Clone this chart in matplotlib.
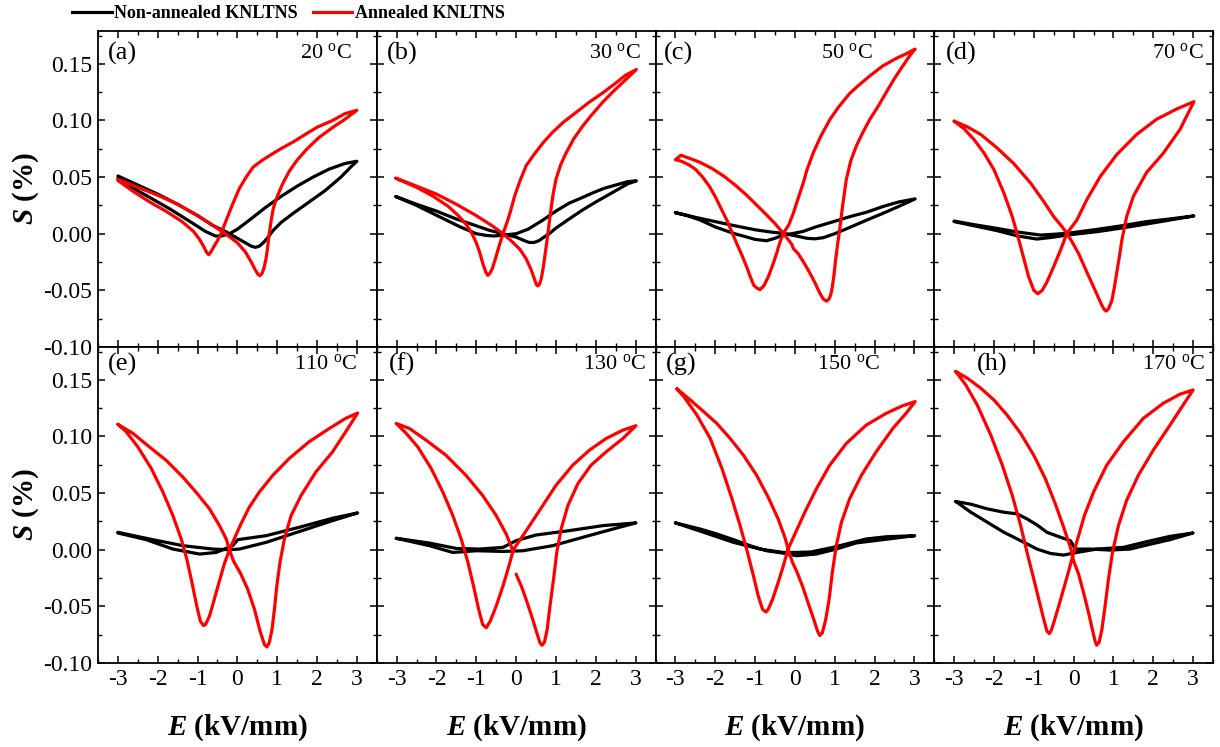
import matplotlib
matplotlib.use("Agg")
import matplotlib.pyplot as plt
from matplotlib.ticker import MultipleLocator, FormatStrFormatter
from matplotlib.lines import Line2D

plt.rcParams['font.family'] = ['Liberation Serif', 'DejaVu Serif']
plt.rcParams['mathtext.fontset'] = 'custom'
plt.rcParams['mathtext.rm'] = 'Liberation Serif'
plt.rcParams['mathtext.it'] = 'Liberation Serif:italic:bold'
plt.rcParams['mathtext.bf'] = 'Liberation Serif:bold'
plt.rcParams['axes.unicode_minus'] = False

# ---------------- data (E in kV/mm, S in %) ----------------
panel_tags = ['(a)', '(b)', '(c)', '(d)', '(e)', '(f)', '(g)', '(h)']
temperatures = [20, 30, 50, 70, 110, 130, 150, 170]
legend_labels = ['Non-annealed KNLTNS', 'Annealed KNLTNS']

# (a) 20 C
red_a_E = [-3.0, -2.5, -2.0, -1.5, -1.0, -0.6, -0.3, 0.0, 0.2, 0.35, 0.45, 0.52, 0.57, 0.62, 0.67, 0.72, 0.76, 0.80, 0.85, 0.90,
           0.97, 1.05, 1.15, 1.3, 1.5, 1.75, 2.05, 2.4, 2.7, 3.0,
           2.7, 2.39, 2.0, 1.72, 1.4, 1.14, 0.9, 0.63, 0.4, 0.22, 0.05, -0.12, -0.28, -0.41, -0.5, -0.6, -0.68, -0.72, -0.78, -0.85,
           -0.95, -1.1, -1.4, -1.8, -2.2, -2.6, -3.0]
red_a_S = [0.048, 0.041, 0.034, 0.026, 0.016, 0.007, 0.0, -0.008, -0.016, -0.025, -0.032, -0.036, -0.037, -0.035, -0.030, -0.022, -0.012, 0.0, 0.012, 0.022,
           0.030, 0.037, 0.045, 0.055, 0.065, 0.075, 0.085, 0.094, 0.101, 0.109,
           0.106, 0.100, 0.094, 0.088, 0.081, 0.076, 0.071, 0.065, 0.059, 0.050, 0.040, 0.026, 0.012, 0.0, -0.006, -0.012, -0.017, -0.0185, -0.016, -0.011,
           -0.005, 0.002, 0.011, 0.020, 0.028, 0.037, 0.047]
blk_a_E = [-3.0, -2.5, -2.0, -1.5, -1.0, -0.6, -0.3, 0.0, 0.2, 0.35, 0.45, 0.55, 0.65, 0.75, 0.9, 1.1, 1.4, 1.8, 2.2, 2.6, 2.85, 3.0,
           2.7, 2.3, 1.9, 1.5, 1.1, 0.7, 0.3, 0.0, -0.2, -0.4, -0.55, -0.8, -1.2, -1.7, -2.2, -2.6, -3.0]
blk_a_S = [0.051, 0.043, 0.035, 0.026, 0.016, 0.007, 0.002, -0.004, -0.008, -0.011, -0.012, -0.011, -0.008, -0.004, 0.003, 0.010, 0.018, 0.028, 0.038, 0.050, 0.059, 0.064,
           0.062, 0.057, 0.050, 0.042, 0.033, 0.023, 0.012, 0.004, 0.0, -0.002, -0.002, 0.002, 0.011, 0.022, 0.032, 0.040, 0.049]

# (b) 30 C
red_b_E = [-3.02, -2.5, -2.0, -1.5, -1.0, -0.6, -0.33, -0.1, 0.1, 0.25, 0.38, 0.46, 0.51, 0.54, 0.58, 0.63, 0.68, 0.72, 0.76, 0.79,
           0.85, 0.92, 1.0, 1.12, 1.25, 1.45, 1.67, 1.9, 2.17, 2.45, 2.75, 3.02,
           2.75, 2.5, 2.2, 1.83, 1.5, 1.17, 0.9, 0.67, 0.45, 0.25, 0.1, -0.04, -0.14, -0.21, -0.33, -0.42, -0.52, -0.6, -0.66, -0.71,
           -0.76, -0.83, -0.92, -1.0, -1.12, -1.25, -1.45, -1.7, -2.08, -2.5, -3.02]
red_b_S = [0.049, 0.042, 0.035, 0.026, 0.016, 0.007, 0.0, -0.007, -0.014, -0.022, -0.032, -0.040, -0.045, -0.046, -0.045, -0.040, -0.030, -0.020, -0.010, -0.002,
           0.015, 0.033, 0.048, 0.061, 0.071, 0.084, 0.095, 0.105, 0.116, 0.126, 0.136, 0.145,
           0.140, 0.133, 0.125, 0.116, 0.107, 0.098, 0.089, 0.080, 0.070, 0.060, 0.047, 0.033, 0.020, 0.012, 0.0, -0.010, -0.022, -0.031, -0.035, -0.0367,
           -0.034, -0.027, -0.016, -0.008, 0.001, 0.008, 0.016, 0.024, 0.033, 0.041, 0.049]
blk_b_E = [-3.02, -2.5, -2.0, -1.5, -1.0, -0.67, -0.33, 0.0, 0.2, 0.33, 0.45, 0.58, 0.7, 0.83, 1.0, 1.33, 1.67, 2.0, 2.5, 2.8, 3.02,
           2.8, 2.5, 2.2, 1.92, 1.6, 1.33, 1.0, 0.67, 0.3, 0.0, -0.33, -0.55, -0.75, -1.0, -1.4, -1.75, -2.1, -2.5, -3.02]
blk_b_S = [0.0328, 0.026, 0.020, 0.013, 0.007, 0.003, 0.0, -0.003, -0.006, -0.0077, -0.0077, -0.006, -0.003, 0.0, 0.005, 0.013, 0.021, 0.028, 0.038, 0.044, 0.0467,
           0.046, 0.043, 0.040, 0.036, 0.031, 0.027, 0.020, 0.012, 0.004, 0.0, -0.0012, -0.002, -0.0015, 0.0, 0.006, 0.012, 0.018, 0.025, 0.0328]

# (c) 50 C
red_c_E = [-2.86, -2.6, -2.38, -2.1, -1.79, -1.5, -1.21, -0.95, -0.71, -0.5, -0.29, -0.15, -0.08, -0.04, 0.0, 0.08, 0.2, 0.35, 0.5, 0.62,
           0.71, 0.79, 0.85, 0.9, 0.94, 0.98, 1.02, 1.07, 1.13, 1.2, 1.29, 1.4, 1.54, 1.7, 1.88, 2.1, 2.29, 2.5, 2.71, 2.9, 3.02,
           2.8, 2.54, 2.2, 1.88, 1.6, 1.38, 1.1, 0.88, 0.65, 0.46, 0.3, 0.21, 0.08, -0.04, -0.15, -0.29, -0.38, -0.46, -0.57, -0.67,
           -0.78, -0.875, -0.95, -1.03, -1.12, -1.21, -1.33, -1.46, -1.6, -1.71, -1.85, -2.0, -2.15, -2.33, -2.5, -2.67, -2.85, -3.0, -2.86]
red_c_S = [0.0692, 0.066, 0.063, 0.058, 0.051, 0.043, 0.034, 0.025, 0.0166, 0.009, 0.0003, -0.006, -0.0092, -0.013, -0.0145, -0.0175, -0.024, -0.033, -0.043, -0.052,
           -0.0575, -0.0595, -0.058, -0.054, -0.047, -0.037, -0.024, -0.010, 0.005, 0.025, 0.0476, 0.064, 0.0772, 0.089, 0.1009, 0.113, 0.1246, 0.137, 0.1482, 0.158, 0.163,
           0.159, 0.1547, 0.148, 0.1393, 0.131, 0.124, 0.112, 0.1009, 0.086, 0.0713, 0.056, 0.0447, 0.031, 0.018, 0.008, 0.0003, -0.008, -0.0175, -0.029, -0.0382,
           -0.046, -0.0494, -0.048, -0.0456, -0.038, -0.0293, -0.019, -0.0086, 0.003, 0.0121, 0.022, 0.0328, 0.042, 0.0506, 0.057, 0.061, 0.064, 0.0654, 0.0692]
blk_c_E = [-3.0, -2.5, -2.0, -1.5, -1.0, -0.6, -0.29, 0.04, 0.3, 0.5, 0.71, 1.0, 1.38, 1.8, 2.21, 2.6, 3.02,
           2.6, 2.21, 1.8, 1.38, 1.0, 0.54, 0.2, -0.04, -0.29, -0.5, -0.71, -1.0, -1.3, -1.54, -2.0, -2.38, -2.7, -3.0]
blk_c_S = [0.0186, 0.0145, 0.0107, 0.007, 0.0035, 0.0015, 0.0003, -0.002, -0.004, -0.0045, -0.0035, 0.0, 0.0056, 0.012, 0.018, 0.024, 0.0308,
           0.028, 0.024, 0.019, 0.0151, 0.011, 0.0062, 0.002, 0.0003, -0.0012, -0.004, -0.0062, -0.005, -0.002, 0.0003, 0.006, 0.0121, 0.016, 0.0186]

# (d) 70 C
red_d_E = [-3.0, -2.67, -2.33, -1.92, -1.5, -1.08, -0.75, -0.5, -0.29, -0.17, -0.04, 0.125, 0.33, 0.54, 0.71, 0.77, 0.82, 0.88, 0.96, 1.02,
           1.08, 1.15, 1.21, 1.33, 1.5, 1.83, 2.25, 2.67, 3.02,
           2.58, 2.08, 1.58, 1.08, 0.67, 0.33, 0.08, -0.17, -0.33, -0.5, -0.67, -0.79, -0.9, -1.0, -1.13, -1.25, -1.375, -1.54, -1.75, -2.0,
           -2.25, -2.5, -2.75, -3.0]
red_d_S = [0.0994, 0.0944, 0.0876, 0.0757, 0.0618, 0.0447, 0.0284, 0.0151, 0.0062, 0.0003, -0.0071, -0.0175, -0.0337, -0.050, -0.0633, -0.067, -0.0683, -0.066, -0.059, -0.048,
           -0.035, -0.020, -0.006, 0.015, 0.033, 0.054, 0.071, 0.092, 0.1166,
           0.110, 0.101, 0.0876, 0.0698, 0.0506, 0.030, 0.012, 0.0003, -0.0145, -0.029, -0.0426, -0.050, -0.053, -0.050, -0.038, -0.022, -0.0056, 0.015, 0.0358, 0.0565,
           0.0713, 0.0831, 0.0926, 0.0994]
blk_d_E = [-3.0, -2.5, -1.92, -1.4, -0.83, -0.17, 0.58, 1.2, 1.83, 2.4, 3.02,
           2.4, 1.83, 1.2, 0.58, -0.17, -0.5, -0.92, -1.4, -1.92, -2.5, -3.0]
blk_d_S = [0.0112, 0.008, 0.0047, 0.0015, -0.0012, 0.0003, 0.0038, 0.007, 0.0107, 0.013, 0.0157,
           0.012, 0.0086, 0.005, 0.0018, -0.0012, -0.003, -0.0047, -0.002, 0.0027, 0.007, 0.0107]

# (e) 110 C
red_e_E = [-3.0, -2.62, -2.21, -1.79, -1.37, -1.04, -0.7, -0.45, -0.28, -0.2, -0.1, -0.02, 0.09, 0.26, 0.43, 0.57, 0.68, 0.74, 0.8, 0.87,
           0.93, 0.99, 1.07, 1.18, 1.35, 1.6, 1.97, 2.39, 2.72, 3.02,
           2.72, 2.31, 1.8, 1.3, 0.89, 0.55, 0.3, 0.09, -0.08, -0.2, -0.33, -0.45, -0.58, -0.7, -0.8, -0.85, -0.93, -1.02, -1.14, -1.27,
           -1.41, -1.62, -1.87, -2.16, -2.5, -2.79, -3.0]
red_e_S = [0.1107, 0.1027, 0.0908, 0.079, 0.0642, 0.0509, 0.0361, 0.0213, 0.0095, 0.0, -0.0098, -0.0148, -0.0216, -0.0349, -0.0527, -0.0719, -0.0837, -0.0858, -0.0822, -0.0704,
           -0.0527, -0.032, -0.0112, 0.0095, 0.0302, 0.0479, 0.0686, 0.0864, 0.1041, 0.1207,
           0.116, 0.1071, 0.0953, 0.0805, 0.0657, 0.0509, 0.0376, 0.0228, 0.0095, 0.0, -0.0127, -0.0275, -0.0438, -0.0586, -0.066, -0.0669, -0.063, -0.0497, -0.029, -0.0083,
           0.0095, 0.0302, 0.0509, 0.0716, 0.0908, 0.1041, 0.1107]
blk_e_E = [-3.00, -2.21, -1.37, -0.62, -0.20, 0.05, 0.72, 1.55, 2.39, 3.02,
           2.39, 1.55, 0.72, 0.01, -0.12, -0.53, -0.95, -1.62, -2.29, -3.00]
blk_e_S = [0.0154, 0.0095, 0.0036, 0.0006, 0.0, 0.0006, 0.0065, 0.016, 0.0257, 0.0325,
           0.0278, 0.0198, 0.0124, 0.0089, 0.0036, -0.0024, -0.0038, 0.0006, 0.0089, 0.0148]

# (f) 130 C  (loop not closed near E = 0)
red_f_E = [0.0, 0.13, 0.25, 0.39, 0.52, 0.6, 0.65, 0.71, 0.78, 0.85, 0.94, 1.02, 1.13, 1.3, 1.55, 1.88, 2.26, 2.68, 3.01,
           2.68, 2.26, 1.84, 1.42, 1.0, 0.67, 0.42, 0.17, -0.07, -0.18, -0.33, -0.5, -0.65, -0.75, -0.84, -0.94, -1.07, -1.21, -1.38, -1.59,
           -1.84, -2.13, -2.47, -2.76, -3.01,
           -2.68, -2.26, -1.76, -1.26, -0.84, -0.5, -0.25, -0.08]
red_f_S = [-0.0216, -0.032, -0.0438, -0.0586, -0.0734, -0.0822, -0.0843, -0.0817, -0.0704, -0.0497, -0.026, -0.0024, 0.0183, 0.039, 0.0583, 0.0746, 0.0864, 0.0982, 0.1095,
           0.1056, 0.0982, 0.0879, 0.0746, 0.0568, 0.0391, 0.0257, 0.0124, 0.0, -0.0142, -0.032, -0.0497, -0.063, -0.0689, -0.066, -0.0527, -0.032, -0.0112, 0.0095, 0.0302,
           0.0509, 0.0716, 0.0908, 0.1027, 0.1115,
           0.1071, 0.0967, 0.0834, 0.0657, 0.0479, 0.0302, 0.0139, -0.0009]
blk_f_E = [-3.01, -2.18, -1.59, -1.00, -0.33, 0.17, 0.92, 1.76, 2.59, 3.01,
           2.18, 1.34, 0.50, 0.00, -0.33, -0.92, -1.51, -2.18, -3.01]
blk_f_S = [0.0101, 0.0036, -0.0024, -0.0009, -0.0015, -0.0009, 0.0036, 0.0118, 0.0198, 0.0237,
           0.0213, 0.0169, 0.013, 0.008, 0.0021, 0.0006, 0.0012, 0.0059, 0.0101]

# (g) 150 C
red_g_E = [-2.96, -2.625, -2.29, -1.96, -1.625, -1.29, -0.96, -0.67, -0.42, -0.25, -0.17, -0.06, 0.04, 0.19, 0.33, 0.475, 0.57, 0.625, 0.69, 0.775,
           0.86, 0.94, 1.04, 1.17, 1.375, 1.67, 2.04, 2.46, 2.79, 3.02,
           2.71, 2.29, 1.79, 1.29, 0.875, 0.54, 0.25, 0.0, -0.17, -0.29, -0.42, -0.56, -0.67, -0.725, -0.81, -0.92, -1.04, -1.19, -1.375, -1.58,
           -1.83, -2.125, -2.46, -2.79, -2.96]
red_g_S = [0.142, 0.1322, 0.1219, 0.1115, 0.0982, 0.0834, 0.0657, 0.0464, 0.0272, 0.0109, 0.0006, -0.0112, -0.0186, -0.032, -0.0467, -0.0615, -0.0719, -0.0757, -0.0734, -0.0615,
           -0.0438, -0.0201, 0.0036, 0.0243, 0.045, 0.0657, 0.0864, 0.1071, 0.1204, 0.1308,
           0.1272, 0.1204, 0.11, 0.0938, 0.0746, 0.0538, 0.0331, 0.0139, 0.0006, -0.0142, -0.029, -0.0438, -0.0527, -0.055, -0.0527, -0.0408, -0.0231, -0.0024, 0.0213, 0.045,
           0.0716, 0.0982, 0.1189, 0.1352, 0.142]
blk_g_E = [-3.0, -2.38, -1.96, -1.54, -1.13, -0.71, -0.29, 0.04, 0.54, 1.04, 1.54, 2.21, 3.01,
           2.3, 1.79, 0.96, 0.4, 0.0, -0.29, -0.875, -1.54, -2.29, -3.0]
blk_g_S = [0.0237, 0.0183, 0.0139, 0.0089, 0.0036, -0.0009, -0.003, -0.0053, -0.0038, 0.0006, 0.006, 0.0089, 0.0124,
           0.0115, 0.0095, 0.0021, -0.002, -0.0024, -0.0024, 0.0006, 0.0065, 0.0154, 0.0237]

# (h) 170 C
red_h_E = [-2.96, -2.67, -2.33, -2.0, -1.67, -1.33, -1.0, -0.71, -0.46, -0.25, -0.08, 0.0, 0.125, 0.25, 0.375, 0.48, 0.54, 0.58, 0.64, 0.71,
           0.79, 0.875, 0.975, 1.125, 1.33, 1.625, 2.0, 2.42, 2.75, 3.0,
           2.67, 2.25, 1.75, 1.25, 0.83, 0.5, 0.27, 0.125, 0.0, -0.1, -0.23, -0.375, -0.5, -0.57, -0.61, -0.67, -0.75, -0.875, -1.02, -1.17,
           -1.33, -1.54, -1.79, -2.08, -2.42, -2.71, -2.96]
red_h_S = [0.1574, 0.1515, 0.1426, 0.1322, 0.1189, 0.1027, 0.0834, 0.0627, 0.0405, 0.0198, 0.002, -0.0098, -0.0216, -0.0379, -0.0556, -0.0719, -0.0808, -0.0843, -0.0817, -0.0704,
           -0.0497, -0.026, -0.0024, 0.0213, 0.0435, 0.0657, 0.0879, 0.11, 0.1278, 0.1411,
           0.1373, 0.1293, 0.116, 0.0953, 0.0746, 0.0509, 0.0302, 0.0124, -0.0024, -0.0157, -0.032, -0.0497, -0.0645, -0.0719, -0.074, -0.0719, -0.0615, -0.0438, -0.0231, -0.0024,
           0.0213, 0.0479, 0.0746, 0.1012, 0.1278, 0.1456, 0.1574]
blk_h_E = [-2.96, -2.58, -2.17, -1.75, -1.42, -1.17, -0.92, -0.67, -0.33, -0.08, 0.04, 0.42, 0.92, 1.42, 1.83, 2.42, 3.0,
           2.42, 1.83, 1.25, 0.58, 0.08, -0.25, -0.58, -0.92, -1.33, -1.75, -2.17, -2.58, -2.96]
blk_h_S = [0.0426, 0.0402, 0.0361, 0.0331, 0.0317, 0.0272, 0.0219, 0.0154, 0.011, 0.008, 0.0006, 0.0006, -0.0003, 0.0006, 0.0041, 0.0089, 0.0148,
           0.0118, 0.0071, 0.0021, 0.0006, -0.0024, -0.0047, -0.0033, 0.0006, 0.008, 0.0154, 0.0243, 0.0331, 0.0426]

red_E = [red_a_E, red_b_E, red_c_E, red_d_E, red_e_E, red_f_E, red_g_E, red_h_E]
red_S = [red_a_S, red_b_S, red_c_S, red_d_S, red_e_S, red_f_S, red_g_S, red_h_S]
blk_E = [blk_a_E, blk_b_E, blk_c_E, blk_d_E, blk_e_E, blk_f_E, blk_g_E, blk_h_E]
blk_S = [blk_a_S, blk_b_S, blk_c_S, blk_d_S, blk_e_S, blk_f_S, blk_g_S, blk_h_S]

# ---------------- layout / style ----------------
tag_pos = [(0.036, 0.93), (0.036, 0.93), (0.03, 0.93), (0.04, 0.93),
           (0.036, 0.945), (0.043, 0.945), (0.036, 0.945), (0.154, 0.945)]
temp_pos = [(0.91, 0.93), (0.946, 0.93), (0.78, 0.93), (0.968, 0.93),
            (0.93, 0.945), (0.964, 0.945), (0.806, 0.945), (0.97, 0.945)]

fig = plt.figure(figsize=(12.2, 7.47), dpi=100)
axs = fig.subplots(2, 4, sharex=True, sharey=True,
                   gridspec_kw=dict(left=98/1220, right=1213/1220,
                                    top=1-31/747, bottom=1-663/747,
                                    wspace=0, hspace=0))
axs = axs.ravel()
LW = 2.3
for i, ax in enumerate(axs):
    ax.plot(blk_E[i], blk_S[i], color='black', lw=LW, solid_joinstyle='round', solid_capstyle='round')
    ax.plot(red_E[i], red_S[i], color='#ff0000', lw=LW, solid_joinstyle='round', solid_capstyle='round')
    ax.set_xlim(-3.5, 3.5)
    ax.set_ylim(-0.10, 0.179)
    ax.xaxis.set_major_locator(MultipleLocator(1))
    ax.xaxis.set_minor_locator(MultipleLocator(0.5))
    ax.yaxis.set_major_locator(MultipleLocator(0.05))
    ax.yaxis.set_minor_locator(MultipleLocator(0.025))
    ax.yaxis.set_major_formatter(FormatStrFormatter('%.2f'))
    ax.xaxis.set_major_formatter(FormatStrFormatter('%d'))
    ax.tick_params(which='both', direction='in', top=True, right=True, labelsize=17)
    ax.tick_params(which='major', length=5, width=1.1)
    ax.tick_params(which='minor', length=3, width=1.0)
    ax.tick_params(axis='x', pad=4.5)
    ax.tick_params(axis='y', pad=4)
    for sp in ax.spines.values():
        sp.set_linewidth(1.3)
    tx, ty = tag_pos[i]
    ax.text(tx, ty, panel_tags[i], transform=ax.transAxes, ha='left', va='center', fontsize=19)
    px, py = temp_pos[i]
    ax.text(px, py, f"{temperatures[i]} $^{{\\mathrm{{o}}}}$C", transform=ax.transAxes,
            ha='right', va='center', fontsize=16)
    if i % 4 == 0:
        ax.set_ylabel('$S$ (%)', fontsize=21, fontweight='bold', labelpad=2)
    if i >= 4:
        ax.set_xlabel('$E$ (kV/mm)', fontsize=21, fontweight='bold', labelpad=16)

handles = [Line2D([], [], color='black', lw=LW), Line2D([], [], color='#ff0000', lw=LW)]
fig.legend(handles, legend_labels, loc='center left', bbox_to_anchor=(72/1220, 1-14/747),
           ncol=2, frameon=False, prop=dict(family='Liberation Serif', weight='bold', size=13),
           handlelength=2.2, handletextpad=0.15, columnspacing=0.8, borderpad=0, borderaxespad=0)

fig.savefig('out.png', dpi=100)
